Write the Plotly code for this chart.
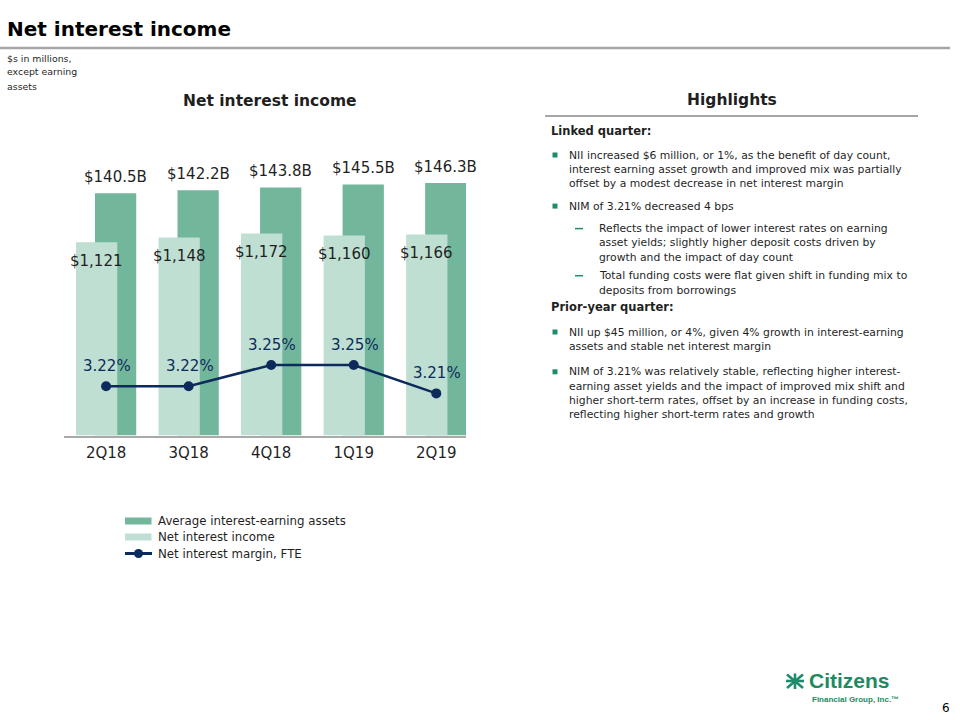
import plotly.graph_objects as go

# ---------------- data ----------------
quarters = ["2Q18", "3Q18", "4Q18", "1Q19", "2Q19"]
avg_earning_assets_b = [140.5, 142.2, 143.8, 145.5, 146.3]   # $ billions
net_interest_income_m = [1121, 1148, 1172, 1160, 1166]       # $ millions
nim_fte_pct = [3.22, 3.22, 3.25, 3.25, 3.21]                 # %

aea_labels = [f"${v:.1f}B" for v in avg_earning_assets_b]
nii_labels = [f"${v:,}" for v in net_interest_income_m]
nim_labels = [f"{v:.2f}%" for v in nim_fte_pct]

legend_names = ["Average interest-earning assets", "Net interest income", "Net interest margin, FTE"]

linked_quarter = [
    ("b", ["NII increased $6 million, or 1%, as the benefit of day count,",
           "interest earning asset growth and improved mix was partially",
           "offset by a modest decrease in net interest margin"]),
    ("b", ["NIM of 3.21% decreased 4 bps"]),
    ("d", ["Reflects the impact of lower interest rates on earning",
           "asset yields; slightly higher deposit costs driven by",
           "growth and the impact of day count"]),
    ("d", ["Total funding costs were flat given shift in funding mix to",
           "deposits from borrowings"]),
]
prior_year = [
    ("b", ["NII up $45 million, or 4%, given 4% growth in interest-earning",
           "assets and stable net interest margin"]),
    ("b", ["NIM of 3.21% was relatively stable, reflecting higher interest-",
           "earning asset yields and the impact of improved mix shift and",
           "higher short-term rates, offset by an increase in funding costs,",
           "reflecting higher short-term rates and growth"]),
]

# ---------------- style ----------------
W, H = 960, 720
DARK = "#72B79C"
LIGHT = "#BEDFD2"
NAVY = "#0C2A5C"
TEAL = "#1E8B6C"
GRAY = "#A6A6A6"
TXT = "#1F1F1F"
FONT = "DejaVu Sans"


def px(x):
    return x / W


def py(y):
    return 1 - y / H


BAR_W = 0.5
DARK_OFF = -0.135
LIGHT_OFF = -0.365
X_RANGE = [-0.51, 4.36]
X_DOM = [64 / W, 466 / W]
CAT_PX = (X_DOM[1] - X_DOM[0]) * W / (X_RANGE[1] - X_RANGE[0])

fig = go.Figure()

fig.add_trace(go.Bar(
    x=quarters, y=avg_earning_assets_b, name=legend_names[0],
    marker=dict(color=DARK, line=dict(width=0)),
    width=BAR_W, offset=DARK_OFF, xaxis="x", yaxis="y", showlegend=False,
))
fig.add_trace(go.Bar(
    x=quarters, y=net_interest_income_m, name=legend_names[1],
    marker=dict(color=LIGHT, line=dict(width=0)),
    width=BAR_W, offset=LIGHT_OFF, xaxis="x", yaxis="y2", showlegend=False,
))
fig.add_trace(go.Scatter(
    x=quarters, y=nim_fte_pct, name=legend_names[2], mode="lines+markers",
    line=dict(color=NAVY, width=2.5), marker=dict(color=NAVY, size=10),
    xaxis="x", yaxis="y3", showlegend=False,
))

annotations = []
dark_shift = (DARK_OFF + BAR_W / 2) * CAT_PX
light_shift = (LIGHT_OFF + BAR_W / 2) * CAT_PX
for q, v, t in zip(quarters, avg_earning_assets_b, aea_labels):
    annotations.append(dict(x=q, y=v, xref="x", yref="y", text=t, showarrow=False,
                            xshift=dark_shift, yshift=16.5, yanchor="middle",
                            font=dict(family=FONT, size=15, color=TXT)))
for q, v, t in zip(quarters, net_interest_income_m, nii_labels):
    annotations.append(dict(x=q, y=v, xref="x", yref="y2", text=t, showarrow=False,
                            xshift=light_shift, yshift=-18.7, yanchor="middle",
                            font=dict(family=FONT, size=15, color=TXT)))
for q, v, t in zip(quarters, nim_fte_pct, nim_labels):
    annotations.append(dict(x=q, y=v, xref="x", yref="y3", text=t, showarrow=False,
                            xshift=1, yshift=20, yanchor="middle",
                            font=dict(family=FONT, size=15, color=NAVY)))


def text(x, y, s, size, bold=False, color=TXT, anchor="left", family=FONT, pad=1):
    if bold:
        s = f"<b>{s}</b>"
    annotations.append(dict(x=px(x), y=py(y), xref="paper", yref="paper", text=s,
                            showarrow=False, xanchor=anchor, yanchor="middle",
                            borderpad=pad,
                            font=dict(family=family, size=size, color=color)))


shapes = []

# page title
text(5, 29, "Net interest income", 20, bold=True, color="#000000")
shapes.append(dict(type="line", xref="paper", yref="paper", x0=0, x1=px(950),
                   y0=py(48), y1=py(48), line=dict(color=GRAY, width=2.5)))
text(5, 58, "$s in millions,", 9.4)
text(5, 72, "except earning", 9.4)
text(5, 86, "assets", 9.4)

# chart title
text(269.5, 101, "Net interest income", 15.5, bold=True, anchor="center")

# highlights
text(731.5, 100, "Highlights", 15.5, bold=True, anchor="center")
shapes.append(dict(type="line", xref="paper", yref="paper", x0=px(545), x1=px(918),
                   y0=py(116), y1=py(116), line=dict(color=GRAY, width=2)))


def block(items, y_start, gaps):
    y = y_start
    for (kind, lines), gap in zip(items, gaps):
        y += gap
        if kind == "b":
            shapes.append(dict(type="rect", xref="paper", yref="paper",
                               x0=px(552.5), x1=px(557.5), y0=py(y + 2.5), y1=py(y - 2.5),
                               fillcolor=TEAL, line=dict(width=0)))
            tx = 567
        else:
            shapes.append(dict(type="line", xref="paper", yref="paper",
                               x0=px(575), x1=px(583), y0=py(y), y1=py(y),
                               line=dict(color=TEAL, width=1.5)))
            tx = 597
        for i, ln in enumerate(lines):
            text(tx, y, ln, 10.8)
            if i < len(lines) - 1:
                y += 14.3
    return y


text(549, 131, "Linked quarter:", 11.5, bold=True)
block(linked_quarter, 131, [24, 22.5, 22.5, 18.5])
text(549, 307.5, "Prior-year quarter:", 11.5, bold=True)
block(prior_year, 307.5, [24.5, 25.5])

# legend (manual)
shapes.append(dict(type="rect", xref="paper", yref="paper", x0=px(125), x1=px(151.5),
                   y0=py(524.5), y1=py(517.5), fillcolor=DARK, line=dict(width=0)))
shapes.append(dict(type="rect", xref="paper", yref="paper", x0=px(125), x1=px(151.5),
                   y0=py(540.5), y1=py(533.5), fillcolor=LIGHT, line=dict(width=0)))
shapes.append(dict(type="line", xref="paper", yref="paper", x0=px(125), x1=px(152),
                   y0=py(553.5), y1=py(553.5), line=dict(color=NAVY, width=3)))
shapes.append(dict(type="circle", xref="paper", yref="paper", x0=px(134), x1=px(143),
                   y0=py(558), y1=py(549), fillcolor=NAVY, line=dict(width=0)))
for yy, nm in zip([521, 537, 553.5], legend_names):
    text(156, yy, nm, 11.8)

# logo
for (x0, y0, x1, y1) in [(787, 674.5, 803, 688), (787, 688, 803, 674.5),
                         (795, 673.5, 795, 689), (786, 681, 804, 681)]:
    shapes.append(dict(type="line", xref="paper", yref="paper", x0=px(x0), x1=px(x1),
                       y0=py(y0), y1=py(y1), line=dict(color=TEAL, width=2.6)))
text(808, 680.5, "Citizens", 21, bold=True, color="#1E8A60", family="Liberation Sans", pad=0)
text(811, 699.5, "Financial Group, Inc.™", 8, bold=True, color="#1E8A60",
     family="Liberation Sans", pad=0)
text(946, 708, "6", 12, color="#000000", anchor="center")

Y_DOM = [1 - 435.5 / H, 1 - 150 / H]
fig.update_layout(
    width=W, height=H,
    margin=dict(l=0, r=0, t=0, b=0),
    paper_bgcolor="white", plot_bgcolor="rgba(0,0,0,0)",
    barmode="overlay", showlegend=False,
    font=dict(family=FONT, color=TXT),
    xaxis=dict(type="category", domain=X_DOM, range=X_RANGE, showline=True,
               linecolor="#A9A9A9", linewidth=2, ticks="", showgrid=False,
               zeroline=False, tickfont=dict(family=FONT, size=15, color=TXT),
               ticklabelstandoff=2, anchor="y"),
    yaxis=dict(domain=Y_DOM, range=[0, 165.5], visible=False, showgrid=False, zeroline=False),
    yaxis2=dict(overlaying="y", range=[0, 1656], visible=False, showgrid=False, zeroline=False),
    yaxis3=dict(overlaying="y", range=[3.1507, 3.5528], visible=False, showgrid=False, zeroline=False),
    annotations=annotations,
    shapes=shapes,
)

fig.write_html("out.html", config={"displayModeBar": False},
               post_script="document.body.style.margin='0px';document.body.style.overflow='hidden';")
